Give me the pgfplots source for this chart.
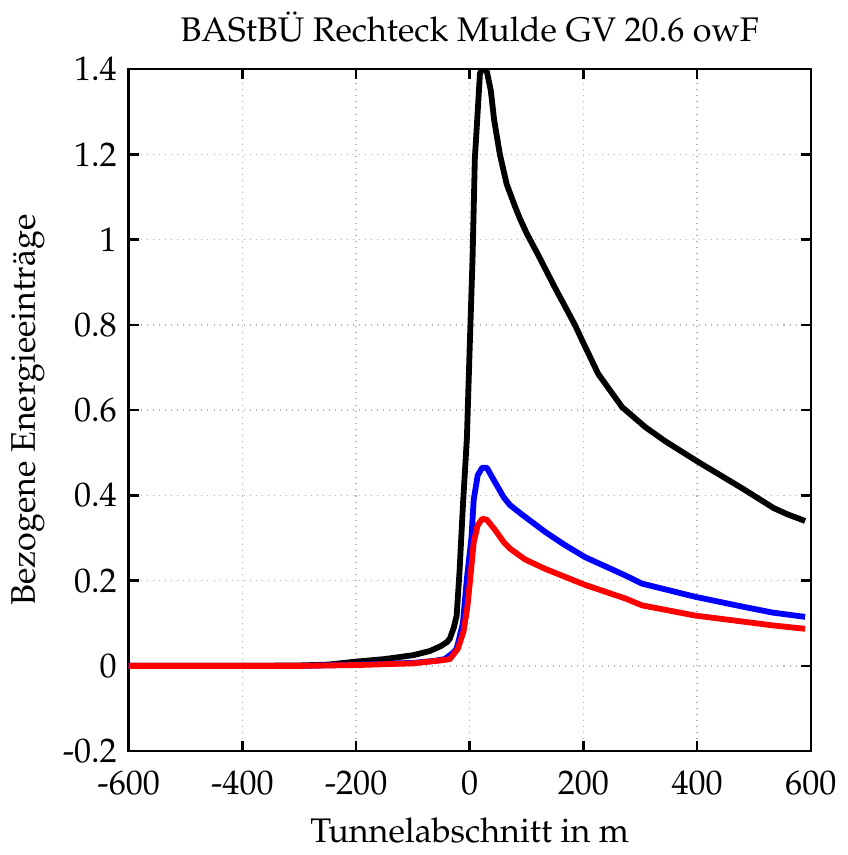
\documentclass[border=0pt]{standalone}
\usepackage[T1]{fontenc}
\usepackage{mathpazo}
\usepackage{pgfplots}
\pgfplotsset{compat=1.18}

\begin{document}
\fontsize{13.5pt}{16pt}\selectfont
\begin{tikzpicture}
\begin{axis}[
    scale only axis,
    width=270pt,
    height=270pt,
    xmin=-600, xmax=600,
    ymin=-0.2, ymax=1.4,
    xtick={-600,-400,...,600},
    ytick={-0.2,0,0.2,...,1.4},
    tick align=inside,
    major tick length=4pt,
    axis line style={line width=1pt},
    every tick/.style={black, line width=1pt},
    grid=major,
    major grid style={gray!60, dotted, line width=0.6pt},
    title={BAStB\"U Rechteck Mulde GV 20.6 owF},
    xlabel={Tunnelabschnitt in m},
    ylabel={Bezogene Energieeintr\"age},
    ylabel style={yshift=-2pt},
    /pgf/number format/assume math mode=true,
    yticklabel style={/pgf/number format/fixed},
    xticklabel style={yshift=-3pt},
    tick label style={font=\fontsize{13.5pt}{16pt}\selectfont},
    label style={font=\fontsize{13.5pt}{16pt}\selectfont},
    title style={font=\fontsize{13.5pt}{16pt}\selectfont},
    every axis plot/.append style={line width=2.3pt, line join=round},
]
\addplot[black] coordinates {
(-600,0) (-400,0) (-300,0.001) (-250,0.003) (-200,0.010) (-150,0.016)
(-100,0.025) (-70,0.035) (-50,0.047) (-40,0.056) (-35,0.064) (-28,0.09)
(-23,0.118) (-18,0.22) (-12,0.376) (-5,0.534) (0,0.75) (5,0.958)
(9,1.19) (14,1.30) (18,1.39) (25,1.405) (30,1.395) (37,1.35) (43,1.28)
(53,1.20) (65,1.13) (79,1.08) (88,1.05) (100,1.015) (120,0.965)
(150,0.887) (185,0.80) (199,0.760) (226,0.685) (268,0.607) (309,0.560)
(344,0.527) (400,0.48) (450,0.440) (480,0.416) (535,0.37) (560,0.355)
(590,0.34)
};
\addplot[blue] coordinates {
(-600,0) (-300,0) (-200,0.003) (-100,0.007) (-60,0.012) (-44,0.016)
(-30,0.03) (-23,0.04) (-12,0.10) (-5,0.205) (3,0.30) (7,0.39)
(14,0.447) (22,0.465) (30,0.465) (44,0.432) (60,0.395) (71,0.377)
(92,0.355) (132,0.315) (168,0.283) (203,0.255) (274,0.212) (303,0.193)
(397,0.162) (480,0.139) (533,0.125) (590,0.115)
};
\addplot[red] coordinates {
(-600,0) (-300,0) (-200,0.002) (-100,0.006) (-79,0.009) (-50,0.013)
(-35,0.016) (-21,0.04) (-11,0.08) (-4,0.14) (2,0.22) (7,0.29)
(14,0.33) (22,0.345) (30,0.343) (44,0.32) (60,0.29) (71,0.275)
(97,0.25) (132,0.228) (203,0.19) (274,0.158) (303,0.142) (397,0.118)
(480,0.104) (533,0.095) (590,0.087)
};
\end{axis}
\end{tikzpicture}
\end{document}
